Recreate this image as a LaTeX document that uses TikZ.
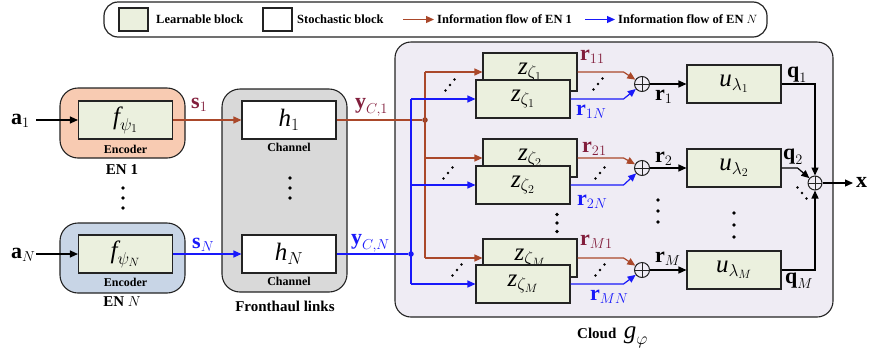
\documentclass[tikz,border=0pt]{standalone}
\usepackage{fontspec}
\setmainfont{Liberation Serif}
\usetikzlibrary{arrows.meta}
\definecolor{lgreen}{RGB}{235,240,222}
\definecolor{salmonc}{RGB}{248,203,178}
\definecolor{bgray}{RGB}{200,213,230}
\definecolor{fgray}{RGB}{217,217,217}
\definecolor{cloudc}{RGB}{239,236,244}
\definecolor{brn}{RGB}{170,72,42}
\definecolor{mar}{RGB}{130,30,60}
\definecolor{blu}{RGB}{25,25,250}
\definecolor{edgec}{RGB}{35,35,35}
\tikzset{
  bx/.style={draw=edgec, line width=1.1pt, minimum width=94pt, minimum height=38pt, inner sep=0pt},
  learn/.style={bx, fill=lgreen},
  stoch/.style={bx, fill=white},
  ln/.style={line width=1.2pt},
  arr/.style={ln, -{Triangle[length=8pt,width=7pt]}},
  bigtxt/.style={font=\fontsize{22}{24}\selectfont, inner sep=0pt},
  inbox/.style={font=\fontsize{25}{27}\selectfont},
  midtxt/.style={font=\fontsize{15}{17}\selectfont\bfseries, inner sep=0pt},
  smalltxt/.style={font=\fontsize{12}{14}\selectfont\bfseries, inner sep=0pt},
  legt/.style={font=\fontsize{12.5}{14}\selectfont\bfseries, inner sep=0pt, anchor=west},
  outer/.style={draw=edgec, line width=1.1pt, rounded corners=18pt},
  oplus/.style={circle, draw=edgec, line width=1pt, minimum size=15pt, inner sep=0pt,
    path picture={\draw[line width=0.9pt] (path picture bounding box.north) -- (path picture bounding box.south)
      (path picture bounding box.west) -- (path picture bounding box.east);}},
  vd/.pic={\foreach \k in {-1,0,1} \fill (0,\k*#1) circle (1.8pt);},
  ud/.pic={\foreach \k in {-1,0,1} \fill (\k*4.5,-\k*5.5) circle (1.4pt);},
  dd/.pic={\foreach \k in {-1,0,1} \fill (\k*4.5,\k*5.5) circle (1.4pt);}
}
\begin{document}
\begin{tikzpicture}[x=1pt,y=-1pt]
\useasboundingbox (0,0) rectangle (870,354);
% ---------- legend
\node[draw=edgec, line width=1.2pt, rounded corners=14pt, minimum width=663pt, minimum height=35pt] (leg) at (435.5,19.5) {};
\node[learn, minimum width=29pt, minimum height=23pt] (legL) at (133.5,19.5) {};
\node[legt] (legLt) at (156,19.5) {Learnable block};
\node[stoch, minimum width=29pt, minimum height=23pt] (legS) at (277.5,19.5) {};
\node[legt] (legSt) at (297,19.5) {Stochastic block};
\coordinate (lb1) at (403,19.5); \coordinate (lb2) at (434,19.5);
\draw[arr, brn] (lb1) -- (lb2);
\node[legt] (legBt) at (437,19.5) {Information flow of EN 1};
\coordinate (lu1) at (585,19.5); \coordinate (lu2) at (615,19.5);
\draw[arr, blu] (lu1) -- (lu2);
\node[legt] (legUt) at (618,19.5) {Information flow of EN $N$};
% ---------- encoders
\node[outer, fill=salmonc, minimum width=125pt, minimum height=70pt] (en1) at (122.5,123) {};
\node[learn, inbox] (f1) at (125.5,120) {$\textit{f}_{\psi_1}$};
\node[smalltxt] (enc1) at (125.5,149) {Encoder};
\node[midtxt] (en1l) at (122,170) {EN 1};
\node[outer, fill=bgray, minimum width=125pt, minimum height=70pt] (enN) at (122.5,258) {};
\node[learn, inbox] (fN) at (125.5,254) {$\textit{f}_{\psi_N}$};
\node[smalltxt] (encN) at (125.5,282) {Encoder};
\node[midtxt] (enNl) at (122,302) {EN $N$};
\pic at (123,198) {vd=10};
\coordinate (a1s) at (36,120);
\coordinate (aNs) at (36,254);
\draw[arr] (a1s) -- (f1);
\draw[arr] (aNs) -- (fN);
\node[bigtxt, anchor=base west] (a1) at (11,124) {$\textbf{a}_1$};
\node[bigtxt, anchor=base west] (aN) at (11,258) {$\textbf{a}_N$};
% ---------- fronthaul
\node[outer, fill=fgray, minimum width=125pt, minimum height=203pt] (fh) at (284.5,190.5) {};
\node[stoch, inbox] (h1) at (289,120) {$\textit{h}_1$};
\node[smalltxt] (ch1) at (289,147) {Channel};
\node[stoch, inbox] (hN) at (289,254) {$\textit{h}_N$};
\node[smalltxt] (chN) at (289,281) {Channel};
\pic at (290,188) {vd=10};
\node[midtxt] (fhl) at (285,306) {Fronthaul links};
\draw[arr, brn] (f1) -- (h1);
\draw[arr, blu] (fN) -- (hN);
\node[bigtxt, text=mar, anchor=base west] (s1) at (191,108) {$\textbf{s}_1$};
\node[bigtxt, text=blu, anchor=base west] (sN) at (192,248) {$\textbf{s}_N$};
% ---------- cloud
\node[draw=edgec, line width=1.1pt, fill=cloudc, rounded corners=16pt, minimum width=438pt, minimum height=275pt] (cloud) at (614,179.5) {};
\node[midtxt, anchor=base west] (cll) at (577,338) {Cloud\ \ {\mdseries\fontsize{25}{27}\selectfont$\textit{g}_{\varphi}$}};
% junctions
\node[circle, fill=brn!85!black, inner sep=0pt, minimum size=5.5pt] (j1) at (425,120) {};
\node[circle, fill=blu, inner sep=0pt, minimum size=5.5pt] (jN) at (411,254) {};
\draw[ln, brn] (h1) -- (j1);
\draw[ln, blu] (hN) -- (jN);
\node[bigtxt, text=mar, anchor=base west] (yc1) at (355,108) {$\textbf{y}_{C,1}$};
\node[bigtxt, text=blu, anchor=base west] (ycN) at (351,244) {$\textbf{y}_{C,N}$};
% z boxes (back)
\node[learn, inbox] (zb1) at (530,72) {\raisebox{3pt}{$\textit{z}_{\zeta_1}$}};
\node[learn, inbox] (zb2) at (530,158) {\raisebox{3pt}{$\textit{z}_{\zeta_2}$}};
\node[learn, inbox] (zbM) at (530,258) {\raisebox{3pt}{$\textit{z}_{\zeta_M}$}};
% z boxes (front)
\node[learn, inbox] (zf1) at (523,99) {$\textit{z}_{\zeta_1}$};
\node[learn, inbox] (zf2) at (523,185) {$\textit{z}_{\zeta_2}$};
\node[learn, inbox] (zfM) at (523,284) {$\textit{z}_{\zeta_M}$};
% branches
\coordinate (bt) at (425,72); \coordinate (bb) at (425,258);
\coordinate (ut) at (411,99); \coordinate (ub) at (411,284);
\draw[ln, blu] (ut) -- (ub);
\draw[ln, brn] (bt) -- (bb);
\draw[arr, brn] (bt) -- (zb1);
\draw[arr, brn] (j1 |- zb2) -- (zb2);
\draw[arr, brn] (bb) -- (zbM);
\draw[arr, blu] (ut) -- (zf1);
\draw[arr, blu] (jN |- zf2) -- (zf2);
\draw[arr, blu] (ub) -- (zfM);
\pic at (450,85) {ud};
\pic at (448,173) {ud};
\pic at (457,270) {ud};
\pic at (557,223) {vd=8.5};
% sums
\node[oplus] (p1) at (642,84) {};
\node[oplus] (p2) at (642,168) {};
\node[oplus] (pM) at (642,270) {};
\draw[arr, brn] (zb1.east) -- ++(46,0) -- (p1);
\draw[arr, blu] (zf1.east) -- ++(53,0) -- (p1);
\draw[arr, brn] (zb2.east) -- ++(46,0) -- (p2);
\draw[arr, blu] (zf2.east) -- ++(53,0) -- (p2);
\draw[arr, brn] (zbM.east) -- ++(46,0) -- (pM);
\draw[arr, blu] (zfM.east) -- ++(53,0) -- (pM);
\pic at (598,84) {ud};
\pic at (600,173) {ud};
\pic at (600,270) {ud};
\node[bigtxt, text=mar, anchor=base west] (r11) at (580,60) {$\textbf{r}_{11}$};
\node[bigtxt, text=blu, anchor=base west] (r1N) at (576,115) {$\textbf{r}_{1N}$};
\node[bigtxt, text=mar, anchor=base west] (r21) at (582,152) {$\textbf{r}_{21}$};
\node[bigtxt, text=blu, anchor=base west] (r2N) at (577,205) {$\textbf{r}_{2N}$};
\node[bigtxt, text=mar, anchor=base west] (rM1) at (580,245) {$\textbf{r}_{M1}$};
\node[bigtxt, text=blu, anchor=base west] (rMN) at (590,300) {$\textbf{r}_{MN}$};
% u boxes
\node[learn, inbox] (u1) at (734,84) {$\textit{u}_{\lambda_1}$};
\node[learn, inbox] (u2) at (734,168) {$\textit{u}_{\lambda_2}$};
\node[learn, inbox] (uM) at (734,270) {$\textit{u}_{\lambda_M}$};
\draw[arr] (p1) -- (u1);
\draw[arr] (p2) -- (u2);
\draw[arr] (pM) -- (uM);
\node[bigtxt, anchor=base west] (r1) at (655,100) {$\textbf{r}_1$};
\node[bigtxt, anchor=base west] (r2) at (655,162) {$\textbf{r}_2$};
\node[bigtxt, anchor=base west] (rM) at (655,262) {$\textbf{r}_M$};
\pic at (658,211) {vd=11};
\pic at (734,225) {vd=12};
% final sum
\node[oplus, minimum size=14pt] (pf) at (815,183) {};
\draw[arr] (u1.east) -- (u1.east -| pf) -- (pf);
\draw[arr] (u2.east) -- ++(16,0) -- (pf);
\draw[arr] (uM.east) -- (uM.east -| pf) -- (pf);
\coordinate (xo) at (853,183);
\draw[arr] (pf) -- (xo);
\node[bigtxt, anchor=base west] (xl) at (856,187) {$\textbf{x}$};
\pic at (802,193) {dd};
\node[bigtxt, anchor=base west] (q1) at (787,77) {$\textbf{q}_1$};
\node[bigtxt, anchor=base west] (q2) at (783,159) {$\textbf{q}_2$};
\node[bigtxt, anchor=base west] (qM) at (785,283) {$\textbf{q}_M$};
\end{tikzpicture}
\end{document}
